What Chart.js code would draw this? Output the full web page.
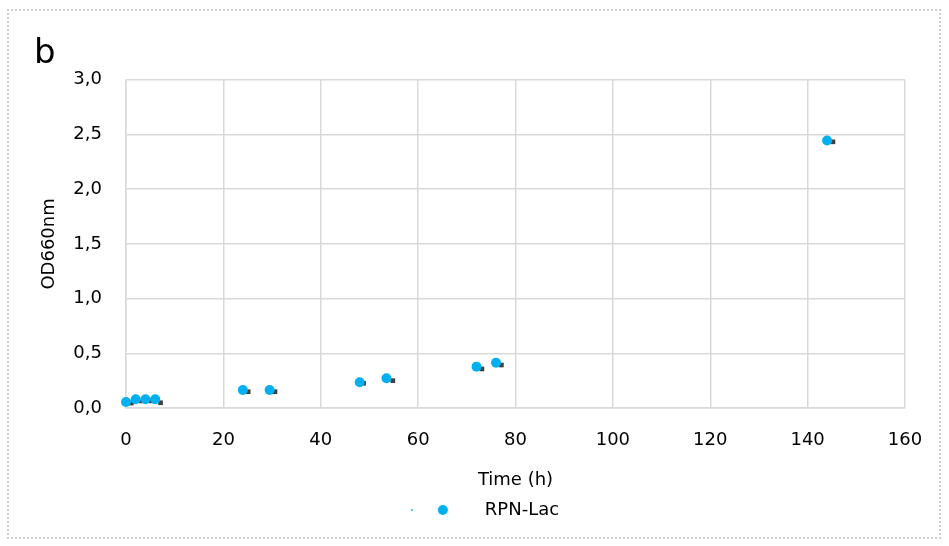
<!DOCTYPE html>
<html>
<head>
<meta charset="utf-8">
<script src="https://cdn.jsdelivr.net/npm/chart.js@4/dist/chart.umd.min.js"></script>
<style>
  html, body { margin: 0; padding: 0; background: #fff; }
  #wrap { position: relative; width: 949px; height: 546px; }
  #frame {
    position: absolute; left: 7px; top: 9px; width: 930px; height: 526px;
    border: 2px dotted #cfcfcf; pointer-events: none;
  }
</style>
</head>
<body>
<div id="wrap">
  <canvas id="growthChart"></canvas>
  <div id="frame"></div>
</div>
<script>
// valores
const timeHours = [0, 2, 4, 6, 24, 29.5, 48, 53.5, 72, 76, 144];
const odValues  = [0.055, 0.08, 0.08, 0.08, 0.165, 0.165, 0.235, 0.272, 0.378, 0.414, 2.445];
// serie secundaria (cuadritos oscuros)
const timeHours2 = [1.1, 3.1, 5.1, 7.1, 25.1, 30.6, 48.8, 54.8, 73.1, 77.1, 145.2];
const odValues2  = [0.045, 0.065, 0.065, 0.048, 0.149, 0.149, 0.226, 0.25, 0.357, 0.393, 2.433];
const xTicks = [0, 20, 40, 60, 80, 100, 120, 140, 160];
const yTicks = [0, 0.5, 1, 1.5, 2, 2.5, 3];
const seriesName = 'RPN-Lac';

const fontFam = "'DejaVu Sans', sans-serif";
const blue = '#00b0f0';
const grid = '#d9d9d9';

// icono de leyenda: punto chico + punto grande
const legendIcon = document.createElement('canvas');
legendIcon.width = 96;
legendIcon.height = 12;
const ic = legendIcon.getContext('2d');
ic.fillStyle = blue;
ic.beginPath(); ic.arc(32, 6, 1, 0, Math.PI * 2); ic.fill();
ic.beginPath(); ic.arc(63, 6, 5, 0, Math.PI * 2); ic.fill();

const ctx = document.getElementById('growthChart').getContext('2d');
new Chart(ctx, {
    type: 'scatter',
    data: {
        datasets: [
            {
                label: seriesName,
                data: timeHours.map((t, i) => ({ x: t, y: odValues[i] })),
                backgroundColor: blue,
                borderColor: blue,
                borderWidth: 0,
                pointRadius: 5,
                pointHoverRadius: 5,
                clip: false
            },
            {
                label: '',
                data: timeHours2.map((t, i) => ({ x: t, y: odValues2[i] })),
                backgroundColor: '#404040',
                borderWidth: 0,
                pointStyle: 'rect',
                pointRadius: 3.3,
                pointHoverRadius: 3.3,
                clip: false
            }
        ]
    },
    options: {
        responsive: true,
        maintainAspectRatio: false,
        animation: false,
        layout: { padding: { left: 34, right: 44, top: 0, bottom: 17 } },
        plugins: {
            title: {
                display: true,
                text: 'b',
                align: 'start',
                color: '#000',
                font: { family: fontFam, size: 34, weight: 'normal' },
                padding: { top: 34, bottom: 5 }
            },
            legend: {
                position: 'bottom',
                labels: {
                    usePointStyle: true,
                    pointStyleWidth: 96,
                    padding: 10,
                    color: '#000',
                    font: { family: fontFam, size: 18 },
                    generateLabels: () => [{
                        text: seriesName,
                        pointStyle: legendIcon,
                        fillStyle: blue,
                        strokeStyle: blue,
                        lineWidth: 0,
                        datasetIndex: 0
                    }]
                },
                onClick: () => {}
            },
            tooltip: { enabled: false }
        },
        scales: {
            x: {
                type: 'linear',
                min: 0,
                max: 160,
                afterBuildTicks: s => { s.ticks = xTicks.map(v => ({ value: v })); },
                afterFit: s => { s.height = 83; },
                grid: { color: grid, lineWidth: 1.5, drawTicks: false },
                border: { color: grid, width: 1.5 },
                ticks: {
                    color: '#000',
                    padding: 22,
                    font: { family: fontFam, size: 18 },
                    callback: v => String(v)
                },
                title: {
                    display: true,
                    text: 'Time (h)',
                    color: '#000',
                    font: { family: fontFam, size: 18 },
                    padding: { top: 21, bottom: 0 }
                }
            },
            y: {
                type: 'linear',
                min: 0,
                max: 3,
                afterBuildTicks: s => { s.ticks = yTicks.map(v => ({ value: v })); },
                afterFit: s => { s.width = 92; },
                grid: { color: grid, lineWidth: 1.5, drawTicks: false },
                border: { color: grid, width: 1.5 },
                ticks: {
                    color: '#000',
                    padding: 24,
                    font: { family: fontFam, size: 18 },
                    callback: v => v.toFixed(1).replace('.', ',')
                },
                title: {
                    display: true,
                    text: 'OD660nm',
                    color: '#000',
                    font: { family: fontFam, size: 18 },
                    padding: { top: 5, bottom: 0 }
                }
            }
        }
    }
});
</script>
</body>
</html>
